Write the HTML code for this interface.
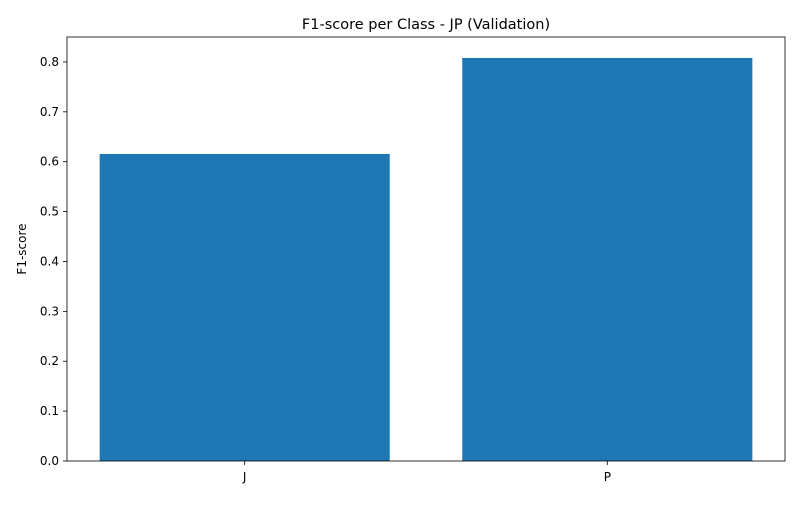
<!DOCTYPE html>
<html><head><meta charset="utf-8"><style>
body{margin:0;background:#fff;font-family:"Liberation Sans","DejaVu Sans",sans-serif;}
</style></head><body>
<svg id="chart" width="800" height="500" xmlns="http://www.w3.org/2000/svg" font-family="DejaVu Sans, Liberation Sans, sans-serif"></svg>
<script>
const categories = ["J", "P"];
const f1Values = [0.6155, 0.808];
const yTicks = [0.0, 0.1, 0.2, 0.3, 0.4, 0.5, 0.6, 0.7, 0.8];

const L = 67, R = 785, T = 37, B = 461;
const xMin = -0.49, xMax = 1.49, yMin = 0, yMax = 0.85;
const xs = v => L + (v - xMin) / (xMax - xMin) * (R - L);
const ys = v => B - (v - yMin) / (yMax - yMin) * (B - T);
const svg = document.getElementById('chart');
const NS = 'http://www.w3.org/2000/svg';
function mk(tag, attrs, text) {
  const e = document.createElementNS(NS, tag);
  for (const k in attrs) e.setAttribute(k, attrs[k]);
  if (text !== undefined) e.textContent = text;
  svg.appendChild(e);
  return e;
}
categories.forEach((c, i) => {
  const r = mk('rect', {x: xs(i - 0.4), y: ys(f1Values[i]), width: xs(i + 0.4) - xs(i - 0.4), height: ys(0) - ys(f1Values[i]), fill: '#1f77b4'});
  
  
  const t = mk('line', {x1: xs(i), x2: xs(i), y1: B, y2: B + 4, stroke: '#000', 'stroke-width': 0.8});
  
  
  const lb = mk('text', {x: xs(i), y: B + 20, 'text-anchor': 'middle', 'font-size': 12}, c);
  
  
});
yTicks.forEach(v => {
  const t = mk('line', {x1: L - 4, x2: L, y1: ys(v), y2: ys(v), stroke: '#000', 'stroke-width': 0.8});
  
  
  const lb = mk('text', {x: L - 8, y: ys(v) + 4, 'text-anchor': 'end', 'font-size': 12}, v.toFixed(1));
  
  
});
const frame = mk('rect', {x: L, y: T, width: R - L, height: B - T, fill: 'none', stroke: '#000', 'stroke-width': 0.8});


const title = mk('text', {x: (L + R) / 2, y: T - 8, 'text-anchor': 'middle', 'font-size': 14.5}, 'F1-score per Class - JP (Validation)');


const yl = mk('text', {x: 0, y: 0, 'text-anchor': 'middle', 'font-size': 12, transform: `translate(26,${(T + B) / 2}) rotate(-90)`}, 'F1-score');


</script>
</body></html>
